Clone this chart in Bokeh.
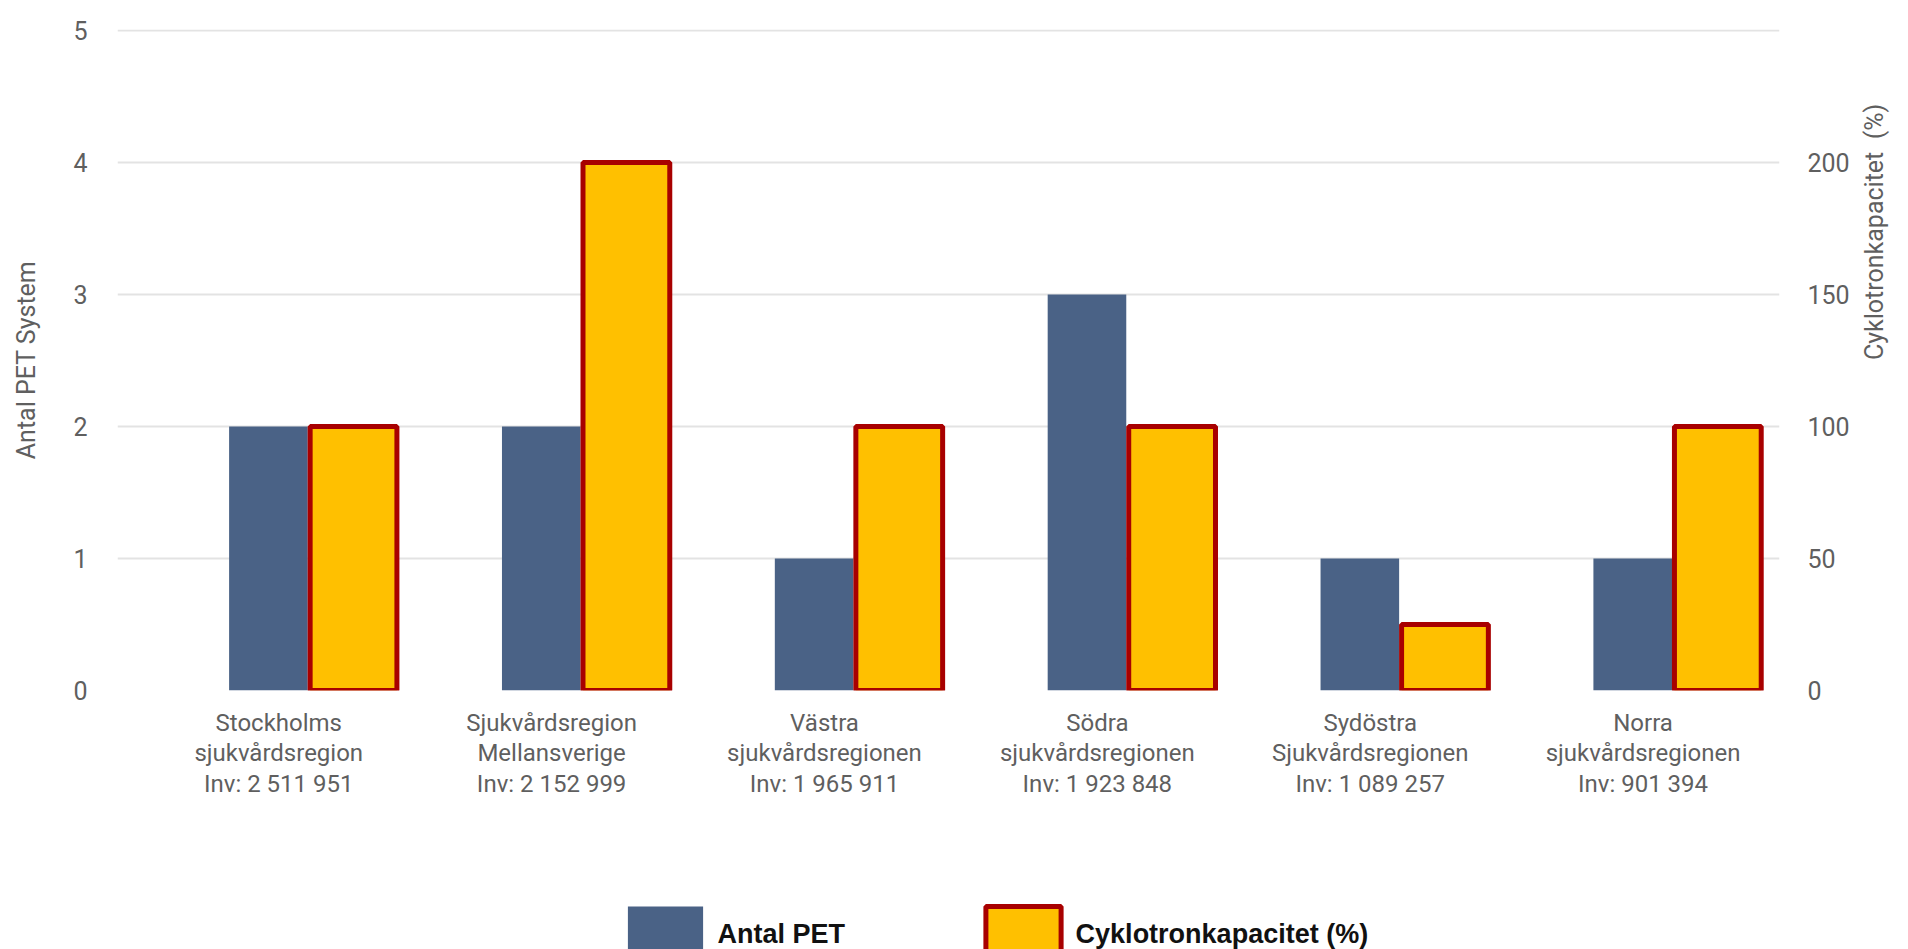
import math
import numpy as np
from bokeh.plotting import figure
from bokeh.layouts import column
from bokeh.models import (Range1d, LinearAxis, FixedTicker, Legend, LegendItem,
                          ColumnDataSource)
from bokeh.embed import file_html
from bokeh.resources import INLINE

# ---- data ----
regions = [
    "Stockholms\nsjukvårdsregion\nInv: 2 511 951",
    "Sjukvårdsregion\nMellansverige\nInv: 2 152 999",
    "Västra\nsjukvårdsregionen\nInv: 1 965 911",
    "Södra\nsjukvårdsregionen\nInv: 1 923 848",
    "Sydöstra\nSjukvårdsregionen\nInv: 1 089 257",
    "Norra\nsjukvårdsregionen\nInv: 901 394",
]
antal_pet = [2, 2, 1, 3, 1, 1]
cyklotron_pct = [100, 200, 100, 100, 25, 100]
left_ticks = [0, 1, 2, 3, 4, 5]
right_ticks = [0, 50, 100, 150, 200]
series_names = ["Antal PET", "Cyklotronkapacitet (%)"]

BLUE = "#4a6286"
YELLOW = "#ffc000"
RED = "#a80000"
GREY = "#5f5f5f"
FONT = "Roboto"

idx = list(range(len(regions)))
src = ColumnDataSource(dict(
    x_pet=[i - 0.038 for i in idx],
    x_cyk=[i + 0.274 for i in idx],
    pet=antal_pet,
    cyk=cyklotron_pct,
))

W, H = 1906, 880
FRAME_L, FRAME_R = 117, 1786
p = figure(width=W, height=H, output_backend="svg", toolbar_location=None,
           x_range=Range1d(-0.591, 5.5), y_range=Range1d(0, 5.008),
           min_border_left=FRAME_L, min_border_right=W - FRAME_R,
           min_border_top=29, min_border_bottom=H - 690)
p.outline_line_color = None
p.xgrid.grid_line_color = None
p.ygrid.grid_line_color = "#e3e3e3"
p.ygrid.grid_line_width = 2
p.ygrid.ticker = FixedTicker(ticks=left_ticks)

p.extra_y_ranges = {"pct": Range1d(0, 250.4)}

p.vbar(x="x_pet", top="pet", bottom=0, width=0.288, source=src,
       fill_color=BLUE, line_color=None)
p.vbar(x="x_cyk", top="cyk", bottom=0, width=0.318, source=src,
       y_range_name="pct", fill_color=YELLOW, line_color=RED, line_width=5)

# x axis
xa = p.xaxis[0]
xa.ticker = FixedTicker(ticks=idx)
xa.major_label_overrides = {i: regions[i] for i in idx}
xa.axis_line_color = None
xa.major_tick_line_color = None
xa.minor_tick_line_color = None
xa.major_label_text_font = FONT
xa.major_label_text_font_size = "24px"
xa.major_label_text_color = GREY
xa.major_label_text_line_height = 1.1
xa.major_label_standoff = 12

# left axis
ya = p.yaxis[0]
ya.ticker = FixedTicker(ticks=left_ticks)
ya.axis_line_color = None
ya.major_tick_line_color = None
ya.minor_tick_line_color = None
ya.major_label_text_font = FONT
ya.major_label_text_font_size = "25px"
ya.major_label_text_color = GREY
ya.major_label_standoff = 24
ya.axis_label = "Antal PET System"
ya.axis_label_text_font = FONT
ya.axis_label_text_font_size = "25px"
ya.axis_label_text_font_style = "normal"
ya.axis_label_text_color = GREY
ya.axis_label_standoff = 29

# right axis
ra = LinearAxis(y_range_name="pct", ticker=FixedTicker(ticks=right_ticks))
ra.axis_line_color = None
ra.major_tick_line_color = None
ra.minor_tick_line_color = None
ra.major_label_text_font = FONT
ra.major_label_text_font_size = "25px"
ra.major_label_text_color = GREY
ra.major_label_standoff = 22
ra.axis_label = "Cyklotronkapacitet \u00a0(%)"
ra.axis_label_text_font = FONT
ra.axis_label_text_font_size = "25px"
ra.axis_label_text_font_style = "normal"
ra.axis_label_text_color = GREY
ra.axis_label_text_align = "center"
ra.axis_label_standoff = 22
try:
    ra.axis_label_orientation = math.pi / 2
except Exception:
    pass
p.add_layout(ra, "right")

# ---- legend strip below the chart ----
LH = 949 - H
lf = figure(width=W, height=LH, output_backend="svg", toolbar_location=None,
            x_range=Range1d(0, 1), y_range=Range1d(0, 1),
            x_axis_type=None, y_axis_type=None,
            min_border_left=FRAME_L, min_border_right=W - FRAME_R,
            min_border_top=0, min_border_bottom=0)
lf.outline_line_color = None
lf.xgrid.grid_line_color = None
lf.ygrid.grid_line_color = None
# proxy glyphs (not drawn: NaN top) that give the legend its swatches
nan_top = np.array([np.nan])
lr_pet = lf.vbar(x=np.array([0.5]), bottom=np.array([0.0]), top=nan_top,
                 width=0.01, fill_color=BLUE, line_color=None)
lr_cyk = lf.vbar(x=np.array([0.5]), bottom=np.array([0.0]), top=nan_top,
                 width=0.01, fill_color=YELLOW, line_color=RED, line_width=5)
GW, GH = 94, 70
legend = Legend(
    items=[LegendItem(label=series_names[0], renderers=[lr_pet]),
           LegendItem(label=series_names[1], renderers=[lr_cyk])],
    location=(617.6 - FRAME_L, LH - 19 - GH), orientation="horizontal",
    glyph_width=GW, glyph_height=GH, label_height=GH, label_width=250,
    label_standoff=6, padding=0, margin=0, spacing=8,
    border_line_color=None, background_fill_alpha=0,
    label_text_font="Liberation Sans",
    label_text_font_style="bold",
    label_text_font_size="27px", label_text_color="#111111")
lf.add_layout(legend, "center")

open("out.html", "w").write(file_html(column(p, lf, spacing=0), INLINE))
